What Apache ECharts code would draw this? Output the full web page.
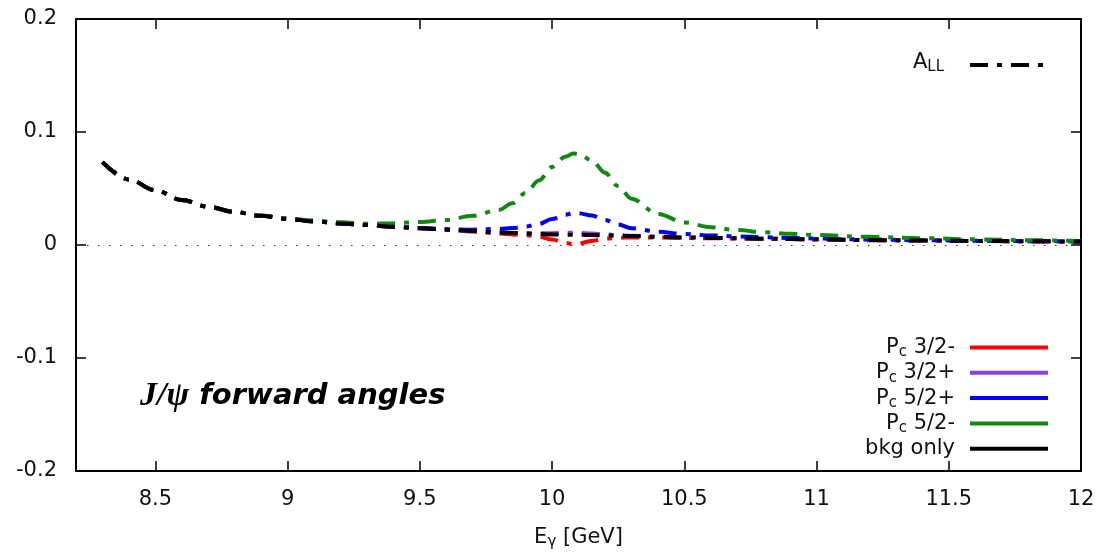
<!DOCTYPE html>
<html>
<head>
<meta charset="utf-8">
<script src="https://cdn.jsdelivr.net/npm/echarts@6/dist/echarts.min.js"></script>
<style>
  html, body { margin: 0; padding: 0; background: #fff; }
  #chart { width: 1097px; height: 552px; }
</style>
</head>
<body>
<div id="chart"></div>
<script>
// Photon energy grid (GeV)
const energy = [8.3, 8.4, 8.5, 8.6, 8.7, 8.8, 8.9, 9.0, 9.1, 9.2, 9.3, 9.4, 9.5, 9.6, 9.7, 9.8, 9.85, 9.9, 9.95, 10.0,
  10.05, 10.08, 10.1, 10.15, 10.2, 10.25, 10.3, 10.4, 10.5, 10.6, 10.7, 10.8, 10.9, 11.0, 11.2, 11.4, 11.6, 11.8, 12.0];

// A_LL for each scenario
const pc32minus = [0.0734, 0.0580, 0.0485, 0.0398, 0.0338, 0.0293, 0.0258, 0.0231, 0.0209, 0.0191, 0.0176, 0.0162, 0.0149, 0.0136, 0.0119, 0.0102, 0.0094, 0.0086, 0.0075, 0.0048,
  0.0018, 0.0009, 0.0013, 0.0036, 0.0056, 0.0064, 0.0067, 0.0066, 0.0063, 0.0060, 0.0057, 0.0054, 0.0052, 0.0049, 0.0043, 0.0039, 0.0035, 0.0032, 0.0029];
const pc32plus = [0.0734, 0.0580, 0.0485, 0.0398, 0.0338, 0.0293, 0.0258, 0.0231, 0.0209, 0.0191, 0.0176, 0.0162, 0.0149, 0.0136, 0.0123, 0.0111, 0.0106, 0.0104, 0.0104, 0.0105,
  0.0107, 0.0108, 0.0107, 0.0102, 0.0094, 0.0087, 0.0082, 0.0073, 0.0067, 0.0063, 0.0059, 0.0056, 0.0053, 0.0050, 0.0044, 0.0040, 0.0036, 0.0033, 0.0030];
const pc52plus = [0.0734, 0.0580, 0.0485, 0.0398, 0.0338, 0.0293, 0.0258, 0.0231, 0.0209, 0.0191, 0.0176, 0.0162, 0.0150, 0.0140, 0.0136, 0.0142, 0.0150, 0.0163, 0.0187, 0.0230,
  0.0268, 0.0283, 0.0282, 0.0260, 0.0222, 0.0182, 0.0148, 0.0117, 0.0097, 0.0085, 0.0076, 0.0069, 0.0063, 0.0058, 0.0049, 0.0043, 0.0038, 0.0034, 0.0031];
const pc52minus = [0.0734, 0.0580, 0.0485, 0.0398, 0.0338, 0.0293, 0.0259, 0.0235, 0.0216, 0.0201, 0.0187, 0.0193, 0.0204, 0.0222, 0.0258, 0.0312, 0.0370, 0.0460, 0.0570, 0.0690,
  0.0780, 0.0810, 0.0805, 0.0750, 0.0640, 0.0520, 0.0410, 0.0275, 0.0200, 0.0158, 0.0132, 0.0113, 0.0099, 0.0088, 0.0072, 0.0060, 0.0050, 0.0042, 0.0036];
const bkgOnly = [0.0734, 0.0580, 0.0485, 0.0398, 0.0338, 0.0293, 0.0258, 0.0231, 0.0209, 0.0191, 0.0176, 0.0162, 0.0149, 0.0136, 0.0123, 0.0111, 0.0106, 0.0101, 0.0097, 0.0094,
  0.0092, 0.0091, 0.0090, 0.0088, 0.0085, 0.0082, 0.0079, 0.0072, 0.0067, 0.0063, 0.0059, 0.0056, 0.0053, 0.0050, 0.0044, 0.0040, 0.0036, 0.0033, 0.0030];

const seriesNames = ['Pc 3/2-', 'Pc 3/2+', 'Pc 5/2+', 'Pc 5/2-', 'bkg only'];
const seriesValues = [pc32minus, pc32plus, pc52plus, pc52minus, bkgOnly];
const seriesColors = ['#ff0000', '#8a3fe0', '#0000ff', '#118811', '#000000'];

const xTicks = [8.5, 9, 9.5, 10, 10.5, 11, 11.5, 12];

const FONT = 'DejaVu Sans';
const FS = 21;
const dashDot = [18, 9, 5, 9];

// main text and lowered subscript sharing one line box
const mainTok = { fontFamily: FONT, fontSize: FS, color: '#111', fill: '#111', lineHeight: 25, verticalAlign: 'middle' };
const subTok = { fontFamily: FONT, fontSize: 15, color: '#111', fill: '#111', lineHeight: 13, verticalAlign: 'bottom' };

const chart = echarts.init(document.getElementById('chart'), null, { renderer: 'canvas' });

const axisLine = { show: true, onZero: false, lineStyle: { color: '#000', width: 2 } };
const tickStyle = { show: true, inside: true, length: 10, lineStyle: { color: '#000', width: 1.5 } };

const series = seriesNames.map((name, i) => ({
  name: name,
  type: 'line',
  xAxisIndex: 0,
  yAxisIndex: 0,
  showSymbol: false,
  symbol: 'none',
  smooth: 0.35,
  smoothMonotone: 'x',
  color: seriesColors[i],
  lineStyle: { color: seriesColors[i], width: 4, type: dashDot, cap: 'butt' },
  data: energy.map((e, k) => [e, seriesValues[i][k]]),
  z: 3 + i,
  silent: true
}));

// dotted zero reference line
series[0].markLine = {
  silent: true,
  symbol: 'none',
  label: { show: false },
  lineStyle: { color: '#333', width: 1, type: [1.5, 9.5] },
  data: [{ yAxis: 0 }]
};

const option = {
  animation: false,
  backgroundColor: '#fff',
  grid: { left: 76, right: 16, top: 19, bottom: 81, containLabel: false, outerBoundsMode: 'none' },
  xAxis: [
    {
      type: 'value', min: 8.2, max: 12, position: 'bottom',
      axisLine: axisLine,
      axisTick: Object.assign({ customValues: xTicks }, tickStyle),
      axisLabel: { customValues: xTicks, fontFamily: FONT, fontSize: FS, color: '#111', margin: 18 },
      splitLine: { show: false },
      name: '{m|E}{s|γ}{m| [GeV]}',
      nameLocation: 'middle',
      nameGap: 54,
      nameTextStyle: { rich: { m: mainTok, s: subTok } }
    },
    {
      type: 'value', min: 8.2, max: 12, position: 'top',
      axisLine: axisLine,
      axisTick: Object.assign({ customValues: xTicks }, tickStyle),
      axisLabel: { show: false },
      splitLine: { show: false }
    }
  ],
  yAxis: [
    {
      type: 'value', min: -0.2, max: 0.2, interval: 0.1, position: 'left',
      axisLine: axisLine,
      axisTick: tickStyle,
      axisLabel: {
        fontFamily: FONT, fontSize: FS, color: '#111', margin: 19,
        formatter: v => (Math.abs(v) < 1e-9 ? '0' : v.toFixed(1))
      },
      splitLine: { show: false }
    },
    {
      type: 'value', min: -0.2, max: 0.2, interval: 0.1, position: 'right',
      axisLine: axisLine,
      axisTick: tickStyle,
      axisLabel: { show: false },
      splitLine: { show: false }
    }
  ],
  legend: {
    data: seriesNames,
    orient: 'vertical',
    align: 'right',
    right: 49,
    top: 337,
    icon: 'rect',
    itemWidth: 78,
    itemHeight: 4,
    itemGap: 2.3,
    padding: 0,
    selectedMode: false,
    formatter: name => {
      if (name.startsWith('Pc')) return '{p|P}{s|c}{p|' + name.slice(2) + '}';
      return '{p|' + name + '}';
    },
    textStyle: { padding: [0, 10, 0, 0], rich: { p: mainTok, s: subTok } }
  },
  graphic: [
    {
      type: 'text',
      left: 913, top: 52,
      style: { text: '{a|A}{b|LL}', rich: { a: mainTok, b: subTok } }
    },
    {
      type: 'line',
      shape: { x1: 970, y1: 65, x2: 1049, y2: 65 },
      style: { stroke: '#000', lineWidth: 4, lineDash: dashDot, lineCap: 'butt' }
    },
    {
      type: 'text',
      left: 140, top: 379,
      style: {
        text: '{g|J/ψ}{t| forward angles}',
        rich: {
          g: { fontFamily: 'Liberation Serif', fontStyle: 'italic', fontWeight: 'bold', fontSize: 34, fill: '#000' },
          t: { fontFamily: 'DejaVu Sans', fontStyle: 'italic', fontWeight: 'bold', fontSize: 29, fill: '#000' }
        }
      }
    }
  ],
  series: series
};

chart.setOption(option);
</script>
</body>
</html>
